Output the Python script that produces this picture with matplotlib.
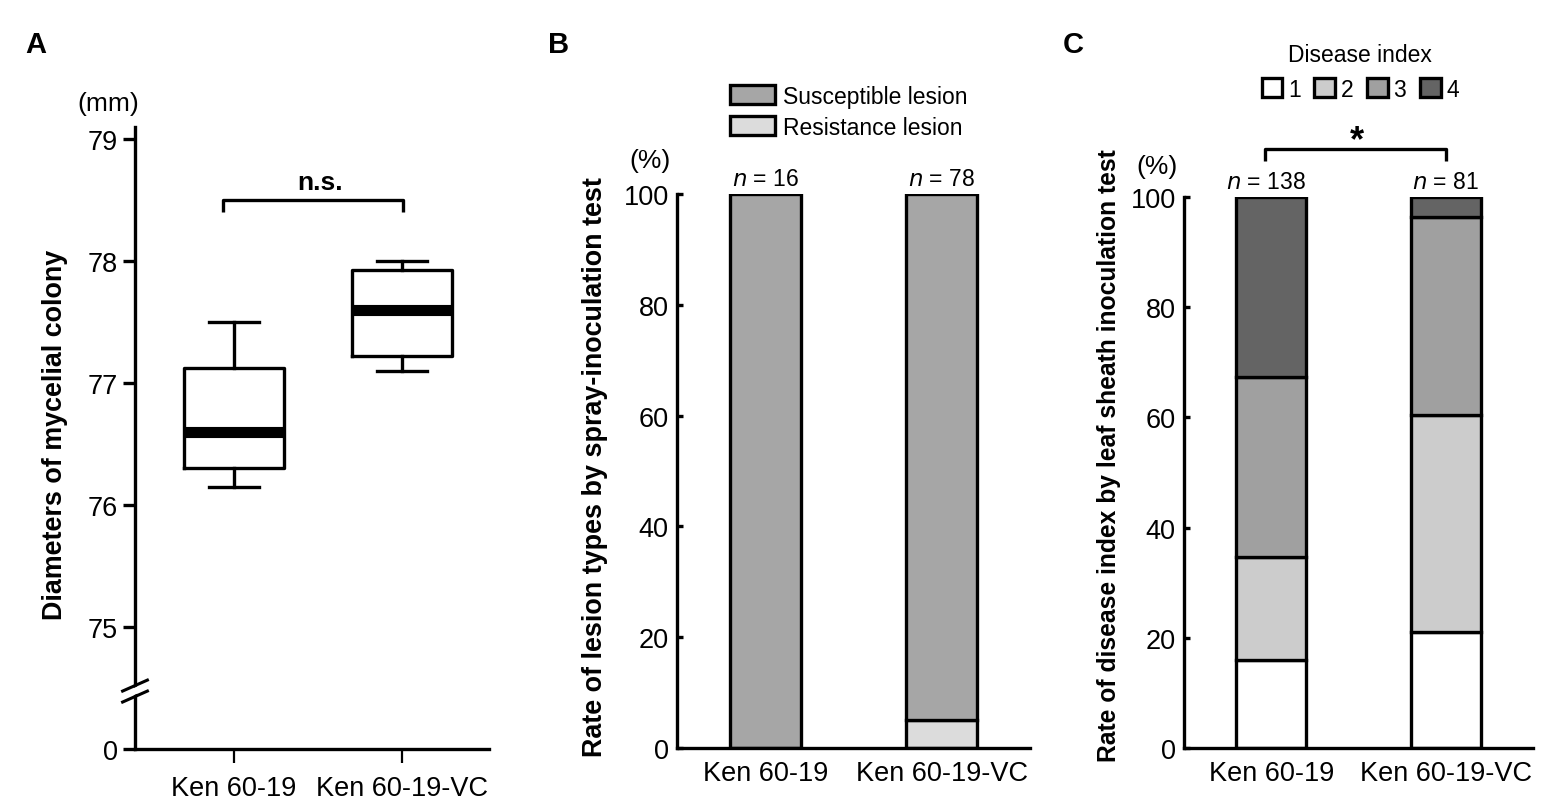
import matplotlib
matplotlib.use("Agg")
import matplotlib.pyplot as plt
from matplotlib.patches import Polygon
import numpy as np

plt.rcParams['font.family'] = ['Liberation Sans', 'DejaVu Sans']

# ---------------- data ----------------
strains = ["Ken 60-19", "Ken 60-19-VC"]

# Panel A: five-number summaries of colony diameter (mm)
a_whislo = [76.15, 77.10]
a_q1 = [76.30, 77.22]
a_med = [76.60, 77.60]
a_q3 = [77.12, 77.93]
a_whishi = [77.50, 78.00]
a_tick_pos = [74, 75, 76, 77, 78, 79]
a_tick_labels = ["0", "75", "76", "77", "78", "79"]

# Panel B: lesion types (%)
b_n = [16, 78]
b_resistance = [0.0, 5.1]
b_susceptible = [100.0, 94.9]

# Panel C: disease index (%)
c_n = [138, 81]
c_index_labels = ["1", "2", "3", "4"]
c_idx1 = [15.9, 21.0]
c_idx2 = [18.8, 39.5]
c_idx3 = [32.6, 35.8]
c_idx4 = [32.7, 3.7]
pct_ticks = [0, 20, 40, 60, 80, 100]

W, H = 1562, 812
fig = plt.figure(figsize=(W / 100, H / 100), dpi=100)


def px_axes(left, right, top, bottom):
    return fig.add_axes([left / W, 1 - bottom / H, (right - left) / W, (bottom - top) / H])


LW = 2.4
TICK = 19.5
SMALL = 16.5
UNIT = 19
LAB = 19.4

# ---------------- Panel A ----------------
axA = px_axes(135, 489, 128, 750)
stats = []
for i in range(2):
    stats.append(dict(med=a_med[i], q1=a_q1[i], q3=a_q3[i],
                      whislo=a_whislo[i], whishi=a_whishi[i], fliers=[]))
axA.bxp(stats, positions=[1, 2], widths=0.6, showfliers=False,
        boxprops=dict(linewidth=LW, color="black"),
        whiskerprops=dict(linewidth=LW, color="black"),
        capprops=dict(linewidth=LW, color="black"),
        medianprops=dict(linewidth=8, color="black", solid_capstyle="butt"),
        capwidths=0.3)
axA.set_xlim(0.411, 2.518)
axA.set_ylim(74, 79.1)
axA.set_yticks(a_tick_pos)
axA.set_yticklabels(a_tick_labels)
axA.set_xticks([1, 2])
axA.set_xticklabels(strains)
for s in ["top", "right"]:
    axA.spines[s].set_visible(False)
for s in ["left", "bottom"]:
    axA.spines[s].set_linewidth(LW)
axA.tick_params(axis="y", direction="out", length=8.5, width=LW, labelsize=TICK, pad=4)
axA.tick_params(axis="x", direction="out", length=10, width=1.6, labelsize=TICK, pad=9)
axA.set_ylabel("Diameters of mycelial colony", fontsize=LAB, fontweight="bold")
axA.yaxis.set_label_coords(-0.19, 0.506)
axA.text(-0.075, 1.02, "(mm)", transform=axA.transAxes, fontsize=UNIT, ha="center", va="bottom")
# significance bracket
axA.plot([0.935, 0.935, 2.006, 2.006], [78.4, 78.5, 78.5, 78.4], color="black", lw=LW,
         solid_capstyle="butt", clip_on=False)
axA.text(1.51, 78.55, "n.s.", fontsize=19, fontweight="bold", ha="center", va="bottom")
# axis break marks
bt = axA.get_yaxis_transform()
yb = 74.47
axA.add_patch(Polygon([[-0.035, yb - 0.07], [0.035, yb + 0.02], [0.035, yb + 0.08], [-0.035, yb - 0.01]],
                      closed=True, facecolor="white", edgecolor="none", transform=bt,
                      clip_on=False, zorder=5))
for dy in (-0.04, 0.05):
    axA.plot([-0.035, 0.035], [yb + dy - 0.045, yb + dy + 0.045], color="black", lw=2.2,
             transform=bt, clip_on=False, zorder=6)

# ---------------- Panel B ----------------
axB = px_axes(677, 1030, 195, 749)
x = np.arange(1, 3)
bw = 0.4
b1 = axB.bar(x, b_resistance, bw, color="#dcdcdc", edgecolor="black", linewidth=LW,
             label="Resistance lesion")
b2 = axB.bar(x, b_susceptible, bw, bottom=b_resistance, color="#a6a6a6", edgecolor="black",
             linewidth=LW, label="Susceptible lesion")
axB.set_xlim(0.5, 2.5)
axB.set_ylim(0, 100)
axB.set_yticks(pct_ticks)
axB.set_xticks(x)
axB.set_xticklabels(strains)
for s in ["top", "right"]:
    axB.spines[s].set_visible(False)
for s in ["left", "bottom"]:
    axB.spines[s].set_linewidth(LW)
axB.tick_params(axis="y", direction="in", length=4.5, width=LW, labelsize=TICK, pad=6)
axB.tick_params(axis="x", length=0, labelsize=TICK, pad=9)
axB.set_ylabel("Rate of lesion types by spray-inoculation test", fontsize=LAB,
               fontweight="bold")
axB.yaxis.set_label_coords(-0.196, 0.509)
axB.text(-0.077, 1.04, "(%)", transform=axB.transAxes, fontsize=UNIT, ha="center", va="bottom")
for xi, n in zip(x, b_n):
    axB.text(xi, 100.8, f"$\\mathit{{n}}$ = {n}", fontsize=SMALL, ha="center", va="bottom")
axB.legend(handles=[b2, b1], loc="lower left", bbox_to_anchor=(0.15, 1.1), frameon=False,
           fontsize=SMALL, handlelength=1.95, handleheight=0.9, handletextpad=0.35,
           labelspacing=0.35, borderpad=0, borderaxespad=0)

# ---------------- Panel C ----------------
axC = px_axes(1184, 1533, 198, 749)
cols = ["white", "#cccccc", "#a0a0a0", "#646464"]
bottom = np.zeros(2)
handles = []
for vals, col, lab in zip([c_idx1, c_idx2, c_idx3, c_idx4], cols, c_index_labels):
    bc = axC.bar(x, vals, bw, bottom=bottom, color=col, edgecolor="black", linewidth=LW, label=lab)
    handles.append(bc)
    bottom = bottom + np.array(vals)
axC.set_xlim(0.5, 2.5)
axC.set_ylim(0, 100)
axC.set_yticks(pct_ticks)
axC.set_xticks(x)
axC.set_xticklabels(strains)
for s in ["top", "right"]:
    axC.spines[s].set_visible(False)
for s in ["left", "bottom"]:
    axC.spines[s].set_linewidth(LW)
axC.tick_params(axis="y", direction="in", length=4.5, width=LW, labelsize=TICK, pad=6)
axC.tick_params(axis="x", length=0, labelsize=TICK, pad=9)
axC.set_ylabel("Rate of disease index by leaf sheath inoculation test", fontsize=17.7,
               fontweight="bold")
axC.yaxis.set_label_coords(-0.18, 0.532)
axC.text(-0.077, 1.035, "(%)", transform=axC.transAxes, fontsize=UNIT, ha="center", va="bottom")
for xi, n in zip(x, c_n):
    axC.text(xi - (0.03 if n > 100 else 0), 100.8, f"$\\mathit{{n}}$ = {n}", fontsize=SMALL,
             ha="center", va="bottom")
axC.plot([0.965, 0.965, 2.0, 2.0], [106.5, 108.7, 108.7, 106.5], color="black", lw=LW,
         solid_capstyle="butt", clip_on=False)
axC.text(1.49, 107.0, "*", fontsize=26, fontweight="bold", ha="center", va="bottom")
leg = axC.legend(handles=handles, loc="lower center", bbox_to_anchor=(0.505, 1.175), ncol=4,
                 frameon=False, fontsize=SMALL, handlelength=0.9, handleheight=0.9,
                 handletextpad=0.25, columnspacing=0.6, borderpad=0, borderaxespad=0,
                 title="Disease index", title_fontsize=SMALL)

# panel letters
for lab, xp in zip(["A", "B", "C"], [36, 559, 1073]):
    fig.text(xp / W, 1 - 45 / H, lab, fontsize=21, fontweight="bold", ha="center", va="center")

fig.savefig("out.png", dpi=100)
